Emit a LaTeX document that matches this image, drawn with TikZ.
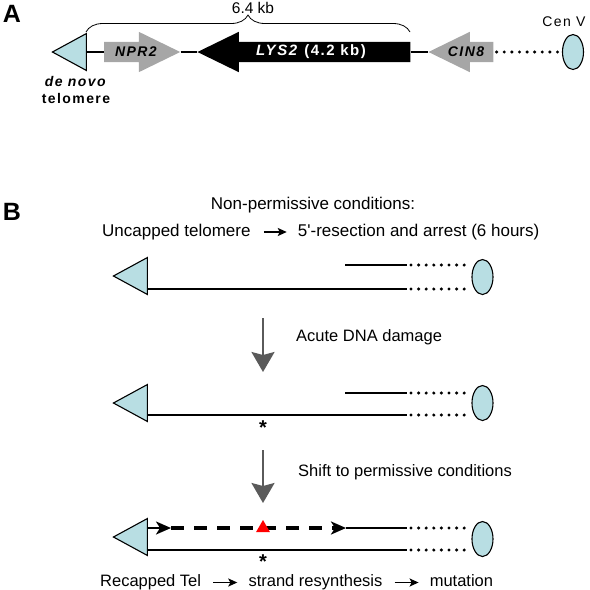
\documentclass[tikz,border=0pt]{standalone}
\usepackage{fontspec}
\setmainfont{Liberation Sans}
\newfontfamily\widefont[LetterSpace=10]{Liberation Sans}
\usepackage{tikz}
\usetikzlibrary{shapes.geometric,shapes.arrows,decorations.pathreplacing,arrows.meta,positioning}
\definecolor{telblue}{RGB}{184,222,227}
\definecolor{genegray}{RGB}{166,166,166}
\definecolor{downgray}{RGB}{90,90,90}
\tikzstyle{strand} = [line width=2.3pt]
\tikzstyle{link} = [line width=1.4pt]
\tikzstyle{dots} = [line width=3.4pt, line cap=round, dash pattern=on 0pt off 7.6pt]
\tikzstyle{newdna} = [line width=3.4pt, dash pattern=on 13pt off 10pt]
\tikzstyle{telo} = [draw, fill=telblue, line width=1.1pt, isosceles triangle, isosceles triangle stretches, shape border rotate=180, minimum width=37pt, minimum height=34pt, inner sep=0pt]
\tikzstyle{cen} = [draw, fill=telblue, line width=1.1pt, ellipse, minimum width=21pt, minimum height=35pt, inner sep=0pt]
\tikzstyle{gene} = [single arrow, inner xsep=0pt, inner ysep=10pt, single arrow head extend=10pt, single arrow tip angle=52]
\tikzstyle{genefont} = [font=\fontsize{14}{14}\selectfont\widefont\bfseries\itshape, inner sep=0pt]
\tikzstyle{down} = [draw=downgray, line width=2.2pt, -{Stealth[length=20pt,width=23pt,inset=3pt]}]
\tikzstyle{flow} = [line width=1.6pt, -{Stealth[length=9pt,width=8pt,inset=2pt]}]
\tikzstyle{caption} = [font=\fontsize{16.5}{19}\selectfont, inner sep=2pt, text height=12pt, text depth=3.5pt]
\tikzstyle{lesion} = [font=\fontsize{20}{20}\selectfont\bfseries, inner sep=0pt]

\begin{document}
\begin{tikzpicture}[x=1pt,y=-1pt]
            \useasboundingbox (0,0) rectangle (590,590);
            % Panel A
            \node[font=\fontsize{25}{25}\selectfont\bfseries] (panA) at (12,14) {A};
            \node[telo, anchor=apex] (telA) at (51,52) {};
            \node[gene, fill=genegray, minimum height=76pt, anchor=tail] (npr) at (104,52) {};
            \node[gene, fill=black, shape border rotate=180, minimum height=213pt, anchor=tip] (lys) at (197,52) {};
            \node[gene, fill=genegray, shape border rotate=180, minimum height=65pt, anchor=tip] (cin) at (428,52) {};
            \node[genefont] (nprlab) at (136,52) {NPR2};
            \node[genefont, text=white, font=\fontsize{15}{15}\selectfont\widefont\bfseries] (lyslab) at (311,52) {\textit{LYS2} (4.2 kb)};
            \node[genefont] (cinlab) at (466,52) {CIN8};
            \node[cen] (cenA) at (573,52) {};
            \node[font=\fontsize{14}{14}\selectfont\widefont] (cenlab) at (564,22) {Cen V};
            \node[font=\fontsize{14}{17}\selectfont\widefont\bfseries, align=center] (denovo) at (76,89.5) {\textit{de novo}\\telomere};
            \draw[line width=0.8pt, decorate, decoration={brace, amplitude=17pt}] (86,32) -- (410,32);
            \node[font=\fontsize{15.5}{15.5}\selectfont] (size) at (253,8) {6.4 kb};
            % links
            \draw[link] (telA.east) -- (npr.tail);
            \draw[link] (npr.tip) -- (lys.tip);
            \draw[link] (lys.tail) -- (cin.tip);
            \draw[dots, shorten <=3pt, shorten >=4pt] (cin.tail) -- (cenA.west);

            % Panel B
            \node[font=\fontsize{25}{25}\selectfont\bfseries] (panB) at (12,212) {B};
            \node[caption, font=\fontsize{17}{20}\selectfont] (title) at (313,205) {Non-permissive conditions:};
            \node[caption, font=\fontsize{17}{20}\selectfont, anchor=west] (uncap) at (100,232) {Uncapped telomere};
            \node[caption, font=\fontsize{17}{20}\selectfont, right=43pt of uncap] (resect) {5\textquotesingle-resection and arrest (6 hours)};
            \draw[flow, shorten <=11pt, shorten >=9pt] (uncap) -- (resect);

            % Row 1
            \node[telo, anchor=apex] (tel1) at (112,276) {};
            \node[cen] (cen1) at (482.5,277) {};
            \coordinate (b1) at (407,289);
            \coordinate (t1) at (407,265);
            \coordinate (s1) at (345,265);
            \draw[strand] (tel1.east |- b1) -- (b1);
            \draw[strand] (s1) -- (t1);
            \draw[dots, shorten <=4pt, shorten >=4pt] (t1) -- (cen1.west |- t1);
            \draw[dots, shorten <=4pt, shorten >=4pt] (b1) -- (cen1.west |- b1);

            % Step 1
            \coordinate (d1a) at (263,318);
            \coordinate (d1b) at (263,372);
            \draw[down] (d1a) -- (d1b);
            \node[caption, anchor=west] (acute) at (294,337) {Acute DNA damage};

            % Row 2
            \node[telo, anchor=apex] (tel2) at (112,403) {};
            \node[cen] (cen2) at (482.5,403) {};
            \coordinate (b2) at (407,415);
            \coordinate (t2) at (407,393);
            \coordinate (s2) at (345,393);
            \draw[strand] (tel2.east |- b2) -- (b2);
            \draw[strand] (s2) -- (t2);
            \draw[dots, shorten <=4pt, shorten >=4pt] (t2) -- (cen2.west |- t2);
            \draw[dots, shorten <=4pt, shorten >=4pt] (b2) -- (cen2.west |- b2);
            \node[lesion] (lesion2) at (263,423) {\raisebox{-0.4em}[0.32em][0pt]{*}};

            % Step 2
            \coordinate (d2a) at (263,450);
            \coordinate (d2b) at (263,503);
            \draw[down] (d2a) -- (d2b);
            \node[caption, anchor=west] (shift) at (296,472) {Shift to permissive conditions};

            % Row 3
            \node[telo, anchor=apex] (tel3) at (112,537) {};
            \node[cen] (cen3) at (482.5,539) {};
            \coordinate (b3) at (407,550);
            \coordinate (t3) at (407,528);
            \coordinate (h1) at (171,528);
            \coordinate (h2) at (346,528);
            \draw[strand] (tel3.east |- b3) -- (b3);
            \draw[strand, -{Stealth[length=15pt,width=13pt,inset=4pt]}] (tel3.east |- t3) -- (h1);
            \draw[newdna, -{Stealth[length=15pt,width=13pt,inset=4pt]}] (h1) -- (h2);
            \draw[strand] (h2) -- (t3);
            \draw[dots, shorten <=4pt, shorten >=4pt] (t3) -- (cen3.west |- t3);
            \draw[dots, shorten <=4pt, shorten >=4pt] (b3) -- (cen3.west |- b3);
            \node[regular polygon, regular polygon sides=3, fill=red, minimum size=16pt, inner sep=0pt] (mut) at (263,528) {};
            \node[lesion] (lesion3) at (263,557) {\raisebox{-0.4em}[0.32em][0pt]{*}};

            % Outcome
            \node[caption, anchor=west] (recap) at (98,582.5) {Recapped Tel};
            \node[caption, right=43pt of recap] (resyn) {strand resynthesis};
            \node[caption, right=43pt of resyn] (mutn) {mutation};
            \draw[flow, shorten <=10pt, shorten >=9pt] (recap) -- (resyn);
            \draw[flow, shorten <=10pt, shorten >=9pt] (resyn) -- (mutn);
        \end{tikzpicture}
\end{document}
